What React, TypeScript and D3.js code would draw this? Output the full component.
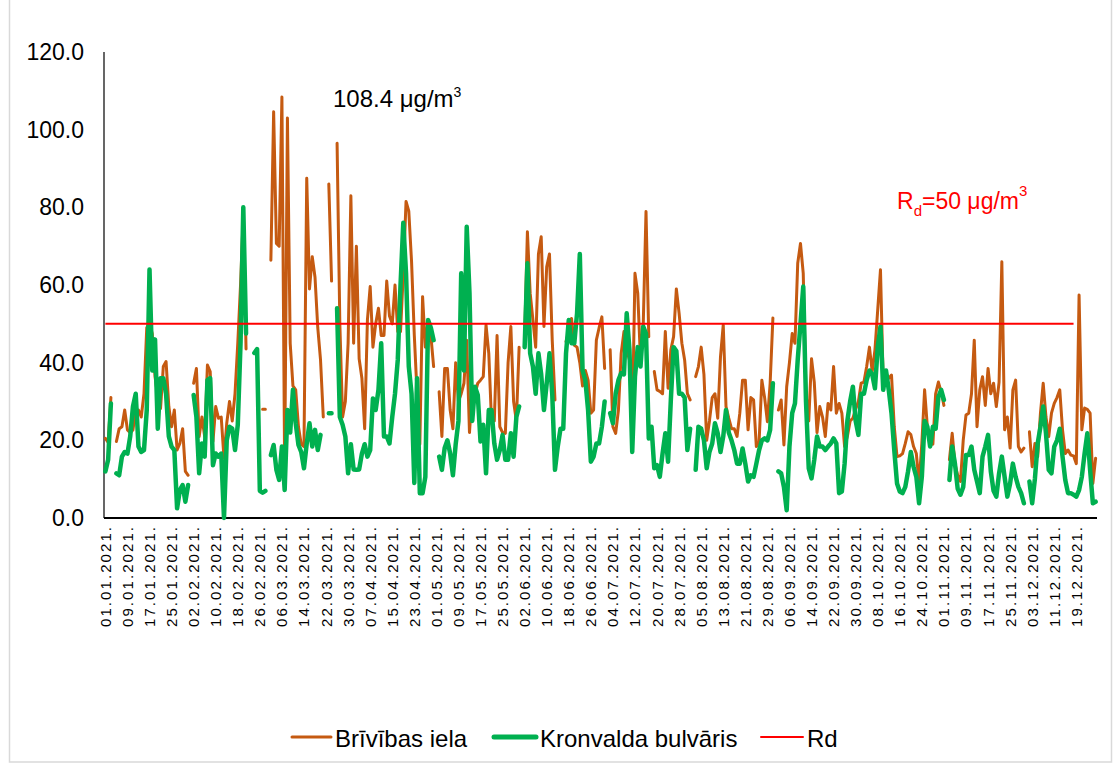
import React from 'react';
import * as d3 from 'd3';

// ---------- DATA ----------
// Daily categories: 01.01.2021 … 26.12.2021
const firstDay = new Date(2021, 0, 1);
const endDayExclusive = new Date(2021, 11, 27);

const tickLabels = [
  '01.01.2021.', '09.01.2021.', '17.01.2021.', '25.01.2021.', '02.02.2021.', '10.02.2021.', '18.02.2021.', '26.02.2021.',
  '06.03.2021.', '14.03.2021.', '22.03.2021.', '30.03.2021.', '07.04.2021.', '15.04.2021.', '23.04.2021.', '01.05.2021.',
  '09.05.2021.', '17.05.2021.', '25.05.2021.', '02.06.2021.', '10.06.2021.', '18.06.2021.', '26.06.2021.', '04.07.2021.',
  '12.07.2021.', '20.07.2021.', '28.07.2021.', '05.08.2021.', '13.08.2021.', '21.08.2021.', '29.08.2021.', '06.09.2021.',
  '14.09.2021.', '22.09.2021.', '30.09.2021.', '08.10.2021.', '16.10.2021.', '24.10.2021.', '01.11.2021.', '09.11.2021.',
  '17.11.2021.', '25.11.2021.', '03.12.2021.', '11.12.2021.', '19.12.2021.',
];

const yTicks = [0, 20, 40, 60, 80, 100, 120];

// Brīvības iela daily PM10 (µg/m³), null = no data
const brivibas: (number | null)[] = [
  20.5, 19.5, 31, null, 19.7, 23, 23.5, 27.8, 22.7, 22,
  22.7, 27.8, 27.8, 26, 32, 49, 50, 47.5, 36.4, 31,
  28.2, 39, 40.3, 28.7, 23.5, 27.8, 17.5, 19.2, 23, 12,
  11, null, 34.7, 38.5, 21, 26, 21, 39.4, 37.7, 19.7,
  28.7, 25.7, 26, 15.4, 24.4, 30, 25, 32, 45, 60,
  78, 43.5, null, null, null, null, null, 28, 28, null,
  66.4, 104.6, 70.7, 70, 108.4, 12, 103, 45, 34, 33,
  23.5, 19, 18.4, 87.5, 59, 67.3, 62, 49, 40.7, 26,
  null, 86, 61, null, 96.5, 50, 26, 30, 45, 83,
  45, 70, 41, 36, 23, 51, 59.6, 44, 50, 54,
  47, 47, 61, 52, 50, 60, 48, 48, 63, 81.5,
  79, 66, 47, 32, 19, 57, 44, 51, 47, 39,
  null, 32.5, 21, 38.5, 38.5, 27.8, 23, 40, 30, 32,
  34.7, 45.8, 22, 33, 32, 34.7, 35.5, 36.4, 49.7, 42.4,
  24.8, 25, 47, 23.5, 22, 21.8, 40, 49.3, 30, 25,
  44, null, 46.7, 73.7, 57.9, 51, 44, 68, 72.4, 49.3,
  64.7, 68, 45.8, 30.4, null, null, null, 45.4, 48, 51.4,
  44.5, 44, 40, 34, 38, 35.5, 27, 27.8, 45.8, 49,
  51.8, 38.5, null, 43.3, 23.5, 21.8, 27.8, 42.4, 48, 43.3,
  40.7, 23, 63, 57.9, 40.7, 50, 78.9, 46.7, null, 37.7,
  33, 32.6, 32, 48, 33.4, 43.3, 46.7, 59, 52.7, 45,
  40.7, 32, 30.4, null, 36.4, 39, 44, 37, 20, 25,
  31, 32, 25.7, 41.5, 49.7, 28.7, 25.7, 23, 23, 21,
  27, 35.5, 35.5, 22.7, 31, 30.4, 18.4, 19.7, 35.5, 31,
  24.8, 34.7, 51.5, null, 27.8, 30.4, 18.8, 33.8, 40, 47.5,
  45, 65.6, 70.7, 63, 32, 25, 41, 35, 22, 28.7,
  26, 21, 29.5, 27.8, 39, 27, 29.5, 27, 18.4, 21,
  25, 25.7, 28, 30, 34.7, 35, 39, 44, 37.7, 43.3,
  53.6, 63.9, 35, 37.3, 36, 36.8, 23.5, 15.8, 16, 16.6,
  19.2, 22.2, 21.5, 18.4, 16.6, 8.9, 19.2, 33, 23.5, 19.2,
  19, 32, 35, 32.5, 29, null, 15, 21.8, 14, 11,
  9.4, 20, 26.5, 27, 32, 45.8, 23.5, 33, 36.4, 29,
  38.5, 32, 34.7, 28.7, 35, 66, 22.7, 26, 18, 33,
  35.5, 18.4, 17, 18, null, 22.2, 13.2, 19.2, 15.8, 27,
  34.7, 26, 21, 27, 29.5, 31, 33, 22.7, 16.6, 17.5,
  16.2, 16, 14, 57.4, 22.7, 28.3, 28, 27, 8.9, 15.4,
];

// Kronvalda bulvāris daily PM10 (µg/m³), null = no data
const kronvalda: (number | null)[] = [
  12, 15, 29.5, null, 11.5, 11, 15.8, 17, 16.6, 21,
  28.7, 32, 18.4, 17, 17.5, 27.8, 64, 38, 46, 23,
  36, 36, 32, 21, 18.4, 17.5, 2.5, 7.2, 8.5, 4.2,
  8.5, null, 31.7, 26, 11.5, 19.2, 15.8, 35.5, 36, 13.6,
  16.6, 15.8, 16.6, 0, 20, 23.5, 23, 17.5, 24, 45,
  80, 47.5, null, null, 42.5, 43.5, 7, 6.5, 7, null,
  16.2, 18.8, 12.4, 9.8, 18.4, 7.2, 27.8, 22, 33, 24.4,
  18.8, 17, 12.8, 19.2, 24.4, 18.4, 22.7, 17.5, 21.4, null,
  null, 27, 27, null, 54, 26, 24, 21, 11.5, 19,
  12.5, 12.4, 12.5, 16.6, 19, 15.8, 17.5, 30.8, 27.8, 33,
  45, 21, 21, 19.2, 26, 32, 40.7, 60, 76, 63,
  39, 32, 9, 36, 6.4, 6.4, 10.6, 51, 49, 45.8,
  null, 15.8, 12.4, 18, 20, 16.6, 11, 19, 25, 63,
  38, 75, 58, 25, 33.8, 31.7, 19.7, 24, 11.5, 27.8,
  27.8, 19.2, 15, 17.5, 21.4, 15, 15, 21.8, 15.8, 26,
  28.7, null, 44, 65.6, 42.4, 39, 32, 42.4, 37, 27.8,
  34.7, 42.4, 32, 12.4, 18.4, 23, 23, 42.4, 51, 45,
  45, 52.7, 68, 38, 35.5, 27.8, 14.5, 15.8, 19.2, 19.2,
  23.5, 30, null, 27, 24.4, 32, 35.5, 37.3, 37, 52.7,
  43.3, 17, 36.4, 44, 39, 49.3, 47.5, 20.5, 23.5, 12.8,
  13.6, 10.6, 16.6, 21.8, 14.5, 30.4, 44, 43, 32, 32,
  31, 17.5, 23, null, 12.4, 23.5, 23, 20, 12.8, 17,
  19.2, 24.4, 21.8, 17, 21, 27.8, 22, 20, 17.5, 14,
  14, 17.9, 14, 9.4, 11, 10.6, 14, 17.5, 20, 20.5,
  20, 22.7, 34.7, null, 12, 11.5, 8, 2, 18.4, 27,
  29.5, 40.7, 50, 59.6, 30, 12.8, 10.2, 15, 21, 18.4,
  18.4, 17.5, 18.4, 19.2, 20.5, 19.2, 6.4, 6.8, 14, 25,
  30, 33.8, 25, 21.4, 32, 32, 35.5, 38, 37, 33.4,
  44, 49.3, 33, 38, 33, 27, 17.5, 8.9, 6.8, 6.4,
  8, 12, 17, 13.2, 10.6, 3.8, 10.6, 25, 23.5, 18.4,
  23.5, 23, 31.2, 33, 30.4, null, 9.8, 18.4, 14, 7.5,
  6, 8, 16.2, 16.2, 18.4, 12.4, 9.4, 6.4, 15.8, 18.4,
  21.4, 12, 7, 5.5, 11.5, 15.8, 10.6, 5.5, 8.9, 14,
  10.6, 8, 6.4, 3.8, null, 9.4, 3.8, 10.2, 19.2, 23.5,
  28.7, 21.8, 12.4, 11.5, 18.4, 20, 23, 15.8, 9.8, 6.4,
  6.4, 6, 5.5, 7.2, 10.6, 16.6, 21.8, 12.4, 3.8, 4.2,
];

// Daily limit value Rd
const rdLimit = 50;
const rdFirstDate = '01.01.2021.';
const rdLastDate = '18.12.2021.';

const seriesNames = ['Brīvības iela', 'Kronvalda bulvāris', 'Rd'];
const seriesColors = ['#C55A11', '#00B050', '#FF0000'];

// ---------- CHART ----------
const W = 1120;
const H = 767;
const FONT = "'Liberation Sans', Arial, sans-serif";

export default function App() {
  const fmt = d3.timeFormat('%d.%m.%Y.');
  const dates = d3.timeDay.range(firstDay, endDayExclusive);
  const cats = dates.map((d) => fmt(d));

  const x = d3.scaleBand<string>().domain(cats).range([104, 1097]).padding(0);
  const cx = (c: string) => (x(c) as number) + x.bandwidth() / 2;
  const y = d3.scaleLinear().domain([0, 120]).range([518, 52]);

  const mkLine = d3
    .line<{ c: string; v: number | null }>()
    .defined((d) => d.v != null)
    .x((d) => cx(d.c))
    .y((d) => y(d.v as number));

  const bData = cats.map((c, i) => ({ c, v: brivibas[i] ?? null }));
  const kData = cats.map((c, i) => ({ c, v: kronvalda[i] ?? null }));
  const rdStart = cats.indexOf(rdFirstDate);
  const rdEnd = cats.indexOf(rdLastDate);
  const rData = cats.slice(rdStart, rdEnd + 1).map((c) => ({ c, v: rdLimit as number | null }));

  const legendItems = [
    { name: seriesNames[0], color: seriesColors[0], w: 3, x1: 292, x2: 331, tx: 335 },
    { name: seriesNames[1], color: seriesColors[1], w: 5, x1: 494, x2: 536, tx: 540 },
    { name: seriesNames[2], color: seriesColors[2], w: 2, x1: 761, x2: 803, tx: 807 },
  ];

  return (
    <svg
      width={W}
      height={H}
      style={{ position: 'absolute', left: 0, top: 0, background: '#fff' }}
      fontFamily={FONT}
    >
      <rect x={0} y={0} width={W} height={H} fill="#fff" />
      <rect x={9.5} y={-5} width={1102} height={767} fill="none" stroke="#d9d9d9" strokeWidth={1.5} />

      {/* y axis labels */}
      {yTicks.map((t) => (
        <text key={t} x={84} y={y(t)} textAnchor="end" dominantBaseline="central" fontSize={23} fill="#000">
          {t.toFixed(1)}
        </text>
      ))}

      {/* axes */}
      <line x1={104} x2={104} y1={y(120)} y2={y(0)} stroke="#000" strokeWidth={1.2} />
      <line x1={104} x2={1097} y1={y(0)} y2={y(0)} stroke="#000" strokeWidth={2} />

      {/* x tick labels */}
      {tickLabels.map((lab) => {
        if (!cats.includes(lab)) return null;
        return (
          <text
            key={lab}
            transform={`translate(${cx(lab)},${527}) rotate(-90)`}
            textAnchor="end"
            dominantBaseline="central"
            fontSize={15}
            fill="#000"
            textLength={100}
            lengthAdjust="spacing"
          >
            {lab}
          </text>
        );
      })}

      {/* series */}
      <path d={mkLine(bData) || ''} fill="none" stroke={seriesColors[0]} strokeWidth={3} strokeLinejoin="round" strokeLinecap="round" />
      <path d={mkLine(kData) || ''} fill="none" stroke={seriesColors[1]} strokeWidth={4.5} strokeLinejoin="round" strokeLinecap="round" />
      <path d={mkLine(rData) || ''} fill="none" stroke={seriesColors[2]} strokeWidth={2} />

      {/* annotations */}
      <text x={333} y={107} fontSize={24} fill="#000">
        108.4 μg/m<tspan fontSize={14} dy={-10}>3</tspan>
      </text>
      <text x={897} y={209} fontSize={23} fill="#FF0000">
        R<tspan fontSize={15} dy={7}>d</tspan>
        <tspan dy={-7}>=50 μg/m</tspan>
        <tspan fontSize={15} dy={-13}>3</tspan>
      </text>

      {/* legend */}
      {legendItems.map((it) => (
        <g key={it.name}>
          <line x1={it.x1} x2={it.x2} y1={737} y2={737} stroke={it.color} strokeWidth={it.w} strokeLinecap="round" />
          <text x={it.tx} y={738} dominantBaseline="central" fontSize={24} fill="#000">
            {it.name}
          </text>
        </g>
      ))}
    </svg>
  );
}
